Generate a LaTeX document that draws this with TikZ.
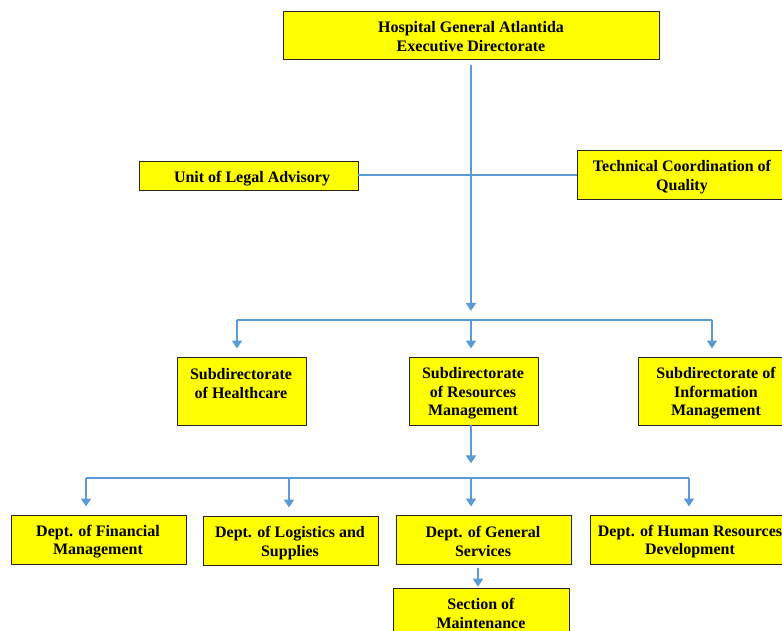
\documentclass[tikz,border=0pt]{standalone}
\usepackage{fontspec}
\setmainfont{Liberation Serif}
\usetikzlibrary{arrows.meta,fit,shadows}
\definecolor{linkblue}{RGB}{91,155,213}
\definecolor{boxyellow}{RGB}{255,255,0}
\tikzset{
	box/.style={draw=black!85, fill=boxyellow, line width=0.7pt, inner sep=0pt,
		drop shadow={shadow xshift=0.8pt, shadow yshift=-0.8pt, fill=black!55, opacity=1}},
	txt/.style={align=center, inner sep=0pt, yshift=-1.1pt, font=\bfseries\fontsize{12}{13.9}\selectfont},
	stem/.style={draw=linkblue, line width=2.1pt, -{Triangle[width=7.5pt,length=6pt]}},
	bar/.style={draw=linkblue, line width=1.1pt}
}

\begin{document}
\begin{tikzpicture}[x=0.75pt, y=-0.75pt]
		%%%%% START %%%%%
		\useasboundingbox (0, 0) rectangle (782, 631);
		
		\node[box, fit={(283, 11) (659, 59)}] (top) {};
		\node[box, fit={(139, 161) (358, 190)}] (legal) {};
		\node[box, fit={(577, 150) (786, 199)}] (quality) {};
		
		\node[box, fit={(177, 357) (306, 425)}] (health) {};
		\node[box, fit={(409, 357) (538, 425)}] (resources) {};
		\node[box, fit={(638, 357) (786, 425)}] (info) {};
		
		\node[box, fit={(11, 515) (186, 564)}] (finance) {};
		\node[box, fit={(203, 516) (378, 565)}] (logistics) {};
		\node[box, fit={(396, 515) (571, 564)}] (general) {};
		\node[box, fit={(590, 515) (786, 564)}] (human) {};
		\node[box, fit={(393, 588) (569, 645)}] (maint) {};
		
		\node[txt] (top-t) at (471, 35) {Hospital General Atlantida\\Executive Directorate};
		\node[txt] (legal-t) at (252, 177) {Unit of Legal Advisory};
		\node[txt] (quality-t) at (682, 175.5) {Technical Coordination of\\Quality};
		
		\node[txt] (health-t) at (241, 382) {Subdirectorate\\of Healthcare};
		\node[txt] (resources-t) at (473, 392) {Subdirectorate\\of Resources\\Management};
		\node[txt] (info-t) at (716, 392) {Subdirectorate of\\Information\\Management};
		
		\node[txt] (finance-t) at (98, 540) {Dept. of Financial\\Management};
		\node[txt] (logistics-t) at (290, 541.5) {Dept. of Logistics and\\Supplies};
		\node[txt] (general-t) at (483, 540) {Dept. of General\\Services};
		\node[txt] (human-t) at (690, 540) {Dept. of Human Resources\\Development};
		\node[txt] (maint-t) at (481, 612) {Section of\\Maintenance};
		
		% first level
		\coordinate (hub1) at (471, 320);
		\coordinate (hub1l) at (237, 320);
		\coordinate (hub1r) at (712, 320);
		\draw[stem, shorten <=3.8pt, shorten >=6.8pt] (hub1 |- top.south) -- (hub1);
		\draw[draw=linkblue, line width=1.5pt] (legal.east) -- (legal.east -| quality.west);
		\draw[bar] (hub1l) -- (hub1r);
		\draw[stem, shorten >=6pt] (hub1l) -- (hub1l |- health.north);
		\draw[stem, shorten >=6pt] (hub1) -- (hub1 |- resources.north);
		\draw[stem, shorten >=6pt] (hub1r) -- (hub1r |- info.north);
		
		% second level
		\coordinate (hub2) at (471, 478);
		\coordinate (hub2a) at (86, 478);
		\coordinate (hub2b) at (289, 478);
		\coordinate (hub2d) at (689, 478);
		\draw[stem, shorten >=11pt] (hub2 |- resources.south) -- (hub2);
		\draw[bar] (hub2a) -- (hub2d);
		\draw[stem, shorten >=6pt] (hub2a) -- (hub2a |- finance.north);
		\draw[stem, shorten >=6pt] (hub2b) -- (hub2b |- logistics.north);
		\draw[stem, shorten >=6pt] (hub2) -- (hub2 |- general.north);
		\draw[stem, shorten >=6pt] (hub2d) -- (hub2d |- human.north);
		
		% section
		\coordinate (sect) at (478, 564);
		\draw[stem, shorten <=3pt, shorten >=0.6pt] (sect) -- (sect |- maint.north);
		%%%%% END %%%%%
\end{tikzpicture}
\end{document}
